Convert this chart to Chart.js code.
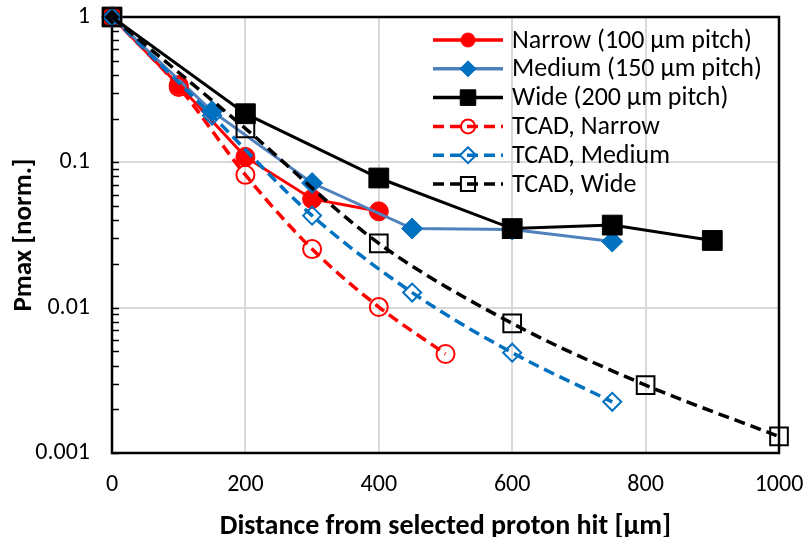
<!DOCTYPE html>
<html>
<head>
<meta charset="utf-8">
<script src="https://cdn.jsdelivr.net/npm/chart.js@4/dist/chart.umd.min.js"></script>
<style>
  html, body { margin: 0; padding: 0; background: #ffffff; }
  canvas { display: block; }
</style>
</head>
<body>
<canvas id="chart" width="803" height="537" style="width:803px;height:537px"></canvas>
<script>
// Measured maximum power vs distance from the selected proton hit
const narrowX = [0, 100, 200, 300, 400];
const narrowY = [1, 0.34, 0.109, 0.056, 0.046];

const mediumX = [0, 150, 300, 450, 600, 750];
const mediumY = [1, 0.225, 0.072, 0.035, 0.0345, 0.0285];

const wideX = [0, 200, 400, 600, 750, 900];
const wideY = [1, 0.216, 0.078, 0.035, 0.037, 0.029];

// TCAD simulation results
const tcadNarrowX = [0, 100, 200, 300, 400, 500];
const tcadNarrowY = [1, 0.33, 0.082, 0.0253, 0.0101, 0.0048];

const tcadMediumX = [0, 150, 300, 450, 600, 750];
const tcadMediumY = [1, 0.21, 0.043, 0.0127, 0.0049, 0.00225];

const tcadWideX = [0, 200, 400, 600, 800, 1000];
const tcadWideY = [1, 0.171, 0.0277, 0.0078, 0.00293, 0.0013];

const seriesLabels = [
  'Narrow (100 µm pitch)',
  'Medium (150 µm pitch)',
  'Wide (200 µm pitch)',
  'TCAD, Narrow',
  'TCAD, Medium',
  'TCAD, Wide'
];

const xTickValues = [0, 200, 400, 600, 800, 1000];
const yTickValues = [1, 0.1, 0.01, 0.001];

const FONT = 'Carlito, Lato, "Liberation Sans", sans-serif';
const GRID = '#d9d9d9';
const DASH = [11, 6];

const pts = (xs, ys) => xs.map((x, i) => ({ x: x, y: ys[i] }));

function solidSeries(label, xs, ys, line, fill, style, r) {
  return {
    label, data: pts(xs, ys), showLine: true, clip: false,
    borderColor: line, borderWidth: 3, tension: 0,
    pointStyle: style, pointRadius: r, pointHoverRadius: r,
    pointBackgroundColor: fill, pointBorderColor: fill, pointBorderWidth: 1
  };
}
function tcadSeries(label, xs, ys, color, style, r) {
  return {
    label, data: pts(xs, ys), showLine: true, clip: false,
    borderColor: color, borderWidth: 3.5, borderDash: DASH, tension: 0.33,
    pointStyle: style, pointRadius: r, pointHoverRadius: r,
    pointBackgroundColor: 'rgba(255,255,255,0)', pointBorderColor: color, pointBorderWidth: 2
  };
}

const datasets = [
  solidSeries(seriesLabels[0], narrowX, narrowY, '#ff0000', '#ff0000', 'circle', 9.5),
  solidSeries(seriesLabels[1], mediumX, mediumY, '#4f81bd', '#0070c0', 'rectRot', 10.5),
  solidSeries(seriesLabels[2], wideX, wideY, '#000000', '#000000', 'rect', 14),
  tcadSeries(seriesLabels[3], tcadNarrowX, tcadNarrowY, '#ff0000', 'circle', 9),
  tcadSeries(seriesLabels[4], tcadMediumX, tcadMediumY, '#0070c0', 'rectRot', 9),
  tcadSeries(seriesLabels[5], tcadWideX, tcadWideY, '#000000', 'rect', 12.5)
];
// later series are painted on top
datasets.forEach((d, i) => { d.order = datasets.length - i; });

// small marker shapes used in the legend
const legendRadius = [7, 8, 11, 7, 8, 10];
function drawMarker(ctx, style, x, y, r, fill, stroke, lw) {
  ctx.beginPath();
  if (style === 'circle') {
    ctx.arc(x, y, r, 0, Math.PI * 2);
  } else if (style === 'rectRot') {
    ctx.moveTo(x, y - r); ctx.lineTo(x + r, y); ctx.lineTo(x, y + r); ctx.lineTo(x - r, y); ctx.closePath();
  } else {
    const s = r * Math.SQRT1_2;
    ctx.rect(x - s, y - s, 2 * s, 2 * s);
  }
  ctx.fillStyle = fill; ctx.fill();
  ctx.lineWidth = lw; ctx.strokeStyle = stroke; ctx.stroke();
}

const legendPlugin = {
  id: 'insideLegend',
  afterDatasetsDraw(chart) {
    const ctx = chart.ctx;
    const a = chart.chartArea;
    const x0 = a.right - 346, x1 = a.right - 276, xm = (x0 + x1) / 2, xt = a.right - 267;
    ctx.save();
    chart.data.datasets.forEach((ds, i) => {
      const y = a.top + 23 + i * 28.8;
      ctx.strokeStyle = ds.borderColor;
      ctx.lineWidth = 3.5;
      ctx.setLineDash(ds.borderDash || []);
      ctx.beginPath(); ctx.moveTo(x0, y); ctx.lineTo(x1, y); ctx.stroke();
      ctx.setLineDash([]);
      drawMarker(ctx, ds.pointStyle, xm, y, legendRadius[i], ds.pointBackgroundColor, ds.pointBorderColor, ds.pointBorderWidth);
      ctx.fillStyle = '#000';
      ctx.font = '26px ' + FONT;
      ctx.textBaseline = 'middle';
      ctx.textAlign = 'left';
      ctx.fillText(ds.label, xt, y + 1);
    });
    ctx.restore();
  }
};

// plot frame plus logarithmic minor tick marks on the value axis
const framePlugin = {
  id: 'plotFrame',
  beforeDatasetsDraw(chart) {
    const ctx = chart.ctx;
    const a = chart.chartArea;
    const ys = chart.scales.y;
    ctx.save();
    ctx.strokeStyle = '#000';
    ctx.lineWidth = 1.5;
    for (let d = 0.001; d < 1; d *= 10) {
      for (let m = 1; m <= 9; m++) {
        const py = Math.round(ys.getPixelForValue(m * d)) + 0.5;
        ctx.beginPath(); ctx.moveTo(a.left, py); ctx.lineTo(a.left + 7, py); ctx.stroke();
      }
    }
    ctx.lineWidth = 2.5;
    ctx.strokeRect(a.left, a.top, a.right - a.left, a.bottom - a.top);
    ctx.restore();
  }
};

new Chart(document.getElementById('chart'), {
  type: 'scatter',
  data: { datasets },
  options: {
    responsive: false,
    animation: false,
    layout: { padding: { left: 0, right: 24, top: 17, bottom: 0 } },
    plugins: { legend: { display: false }, tooltip: { enabled: false } },
    scales: {
      x: {
        type: 'linear', min: 0, max: 1000,
        afterBuildTicks: s => { s.ticks = xTickValues.map(v => ({ value: v })); },
        afterFit: s => { s.height = 84; s.paddingLeft = 0; s.paddingRight = 0; },
        grid: {
          drawTicks: false,
          color: c => (c.tick && c.tick.value > 0 && c.tick.value < 1000) ? GRID : 'rgba(0,0,0,0)',
          lineWidth: 2
        },
        border: { display: false },
        ticks: {
          color: '#000', font: { family: FONT, size: 24 }, padding: 18, maxRotation: 0,
          callback: v => String(v)
        },
        title: {
          display: true, text: 'Distance from selected proton hit [µm]', color: '#000',
          font: { family: FONT, size: 28, weight: 'bold', lineHeight: 0.72 }, padding: { top: 0, bottom: 0 }
        }
      },
      y: {
        type: 'logarithmic', min: 0.001, max: 1,
        afterBuildTicks: s => { s.ticks = yTickValues.map(v => ({ value: v, major: true })); },
        afterFit: s => { s.width = 112; s.paddingTop = 0; s.paddingBottom = 0; },
        grid: {
          drawTicks: false,
          color: c => (c.tick && c.tick.value < 0.5 && c.tick.value > 0.002) ? GRID : 'rgba(0,0,0,0)',
          lineWidth: 2
        },
        border: { display: false },
        ticks: {
          color: '#000', font: { family: FONT, size: 24 }, padding: 22,
          callback: v => String(v)
        },
        title: {
          display: true, text: 'Pmax [norm.]', color: '#000',
          font: { family: FONT, size: 27, weight: 'bold' }, padding: { top: 8, bottom: 0 }
        }
      }
    }
  },
  plugins: [framePlugin, legendPlugin]
});
</script>
</body>
</html>
